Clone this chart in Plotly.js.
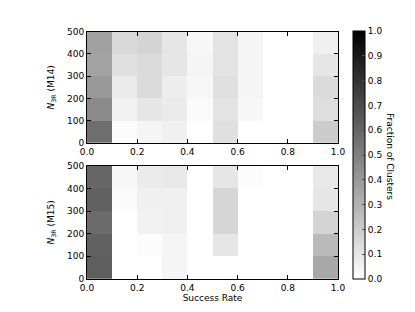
<!DOCTYPE html>
<html><head><meta charset="utf-8">
<script src="https://cdn.plot.ly/plotly-3.0.1.min.js"></script>
<style>body{margin:0;background:#fff}#c{width:415px;height:312px}</style>
</head><body><div id="c"></div>
<script>
var xEdges = [0.0,0.1,0.2,0.3,0.4,0.5,0.6,0.7,0.8,0.9,1.0];
var yEdges = [0,100,200,300,400,500];
// rows: y bins bottom to top; columns: success-rate bins
var m14 = [
  [0.57,0.01,0.04,0.06,0.00,0.12,0.00,0,0,0.20],
  [0.46,0.05,0.10,0.08,0.02,0.11,0.03,0,0,0.13],
  [0.40,0.08,0.14,0.07,0.03,0.12,0.04,0,0,0.14],
  [0.36,0.12,0.14,0.10,0.04,0.11,0.04,0,0,0.10],
  [0.37,0.15,0.17,0.10,0.03,0.11,0.04,0,0,0.06]
];
var m15 = [
  [0.63,0.00,0.00,0.04,0,0.00,0.00,0,0,0.34],
  [0.62,0.00,0.01,0.04,0,0.10,0.00,0,0,0.27],
  [0.58,0.00,0.05,0.06,0,0.16,0.00,0,0,0.17],
  [0.62,0.02,0.06,0.06,0,0.16,0.00,0,0,0.10],
  [0.60,0.03,0.08,0.09,0,0.10,0.01,0,0,0.09]
];
var xTicks = [0,0.2,0.4,0.6,0.8,1.0];
var yTicks = [0,100,200,300,400,500];
var cbTicks = [0,0.1,0.2,0.3,0.4,0.5,0.6,0.7,0.8,0.9,1.0];

var font = {family:'DejaVu Sans', size:9, color:'#000'};
function xax(dom, anchor, title){
  var a = {domain:dom, anchor:anchor, range:[0,1], tickvals:xTicks, tickformat:'.1f',
    ticks:'inside', ticklen:4, tickcolor:'#000', mirror:'allticks', showline:true, linecolor:'#000', linewidth:1,
    showgrid:false, zeroline:false, tickfont:font, automargin:false};
  if(title) a.title = {text:title, font:{family:'DejaVu Sans', size:9}, standoff:2};
  return a;
}
function yax(dom, anchor, title){
  return {domain:dom, anchor:anchor, range:[0,500], tickvals:yTicks,
    ticks:'inside', ticklen:4, tickcolor:'#000', mirror:'allticks', showline:true, linecolor:'#000', linewidth:1,
    showgrid:false, zeroline:false, tickfont:font, automargin:false,
    title:{text:title, font:{family:'DejaVu Sans', size:9}, standoff:10}};
}
var xd = [87/415, 338/415];
var data = [
  {type:'heatmap', x:xEdges, y:yEdges, z:m14, xaxis:'x', yaxis:'y', coloraxis:'coloraxis'},
  {type:'heatmap', x:xEdges, y:yEdges, z:m15, xaxis:'x2', yaxis:'y2', coloraxis:'coloraxis'}
];
var layout = {
  width:415, height:312, margin:{l:0,r:0,t:0,b:0}, paper_bgcolor:'#fff', plot_bgcolor:'#fff',
  font:font, showlegend:false,
  xaxis: xax(xd, 'y', null),
  yaxis: yax([1-143/312, 1-31.7/312], 'x', '<i>N</i><sub>3R</sub> (M14)'),
  xaxis2: xax(xd, 'y2', 'Success Rate'),
  yaxis2: yax([1-279/312, 1-165.7/312], 'x2', '<i>N</i><sub>3R</sub> (M15)'),
  coloraxis:{cmin:0, cmax:1, colorscale:[[0,'#ffffff'],[1,'#000000']],
    colorbar:{x:353/415, xanchor:'left', y:1-279/312, yanchor:'bottom', len:248/312, lenmode:'fraction',
      thickness:12, thicknessmode:'pixels', xpad:0, ypad:0, outlinewidth:1, outlinecolor:'#000',
      tickvals:cbTicks, tickformat:'.1f', ticks:'inside', ticklen:3, tickcolor:'#555', tickfont:font}},
  annotations:[{text:'Fraction of Clusters', xref:'paper', yref:'paper', x:390/415, y:1-156/312,
    xanchor:'center', yanchor:'middle', textangle:90, showarrow:false, font:{family:'DejaVu Sans', size:9}}]
};
Plotly.newPlot('c', data, layout, {staticPlot:true});
</script></body></html>
